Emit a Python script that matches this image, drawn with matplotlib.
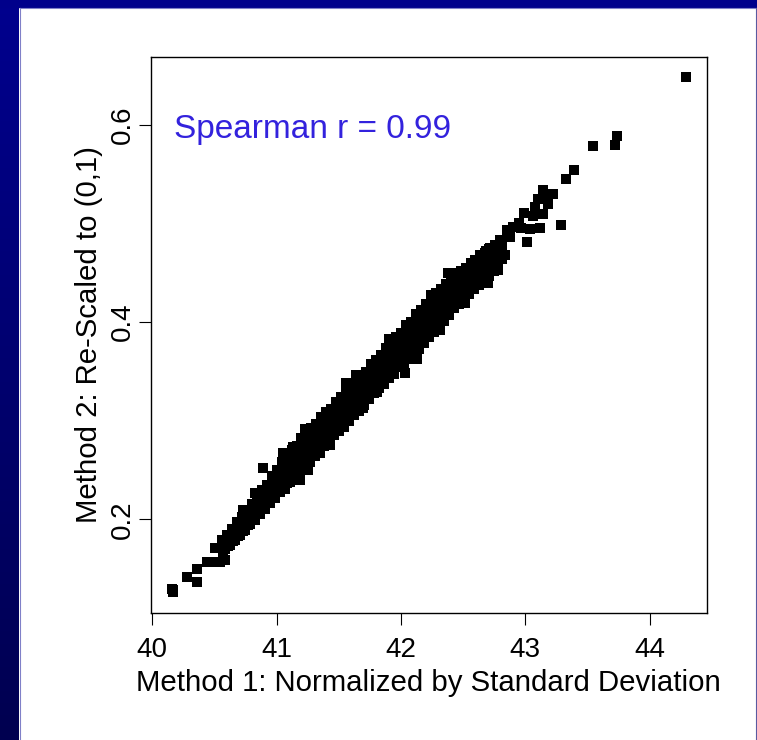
import numpy as np
import matplotlib
matplotlib.use('Agg')
import matplotlib.pyplot as plt
from matplotlib.lines import Line2D

plt.rcParams['font.family'] = ['Liberation Sans', 'DejaVu Sans']

# Method 1 (normalized by SD) vs Method 2 (re-scaled to 0-1)
# dense band, one row per narrow x strip
method1_sd = [
    40.585, 40.610, 40.595, 40.615, 40.600,
    40.625, 40.650, 40.635, 40.655, 40.640,
    40.665, 40.690, 40.675, 40.695, 40.680,
    40.705, 40.730, 40.715, 40.735, 40.720,
    40.745, 40.770, 40.755, 40.775, 40.760,
    40.785, 40.810, 40.795, 40.815, 40.800,
    40.825, 40.850, 40.835, 40.855, 40.840,
    40.865, 40.890, 40.875, 40.895, 40.880,
    40.905, 40.930, 40.915, 40.935, 40.920,
    40.945, 40.970, 40.955, 40.975, 40.960,
    40.985, 41.010, 40.995, 41.015, 41.000,
    41.025, 41.050, 41.035, 41.055, 41.040,
    41.065, 41.090, 41.075, 41.095, 41.080,
    41.105, 41.130, 41.115, 41.135, 41.120,
    41.145, 41.170, 41.155, 41.175, 41.160,
    41.185, 41.210, 41.195, 41.215, 41.200,
    41.225, 41.250, 41.235, 41.255, 41.240,
    41.265, 41.290, 41.275, 41.295, 41.280,
    41.305, 41.330, 41.315, 41.335, 41.320,
    41.345, 41.370, 41.355, 41.375, 41.360,
    41.385, 41.410, 41.395, 41.415, 41.400,
    41.425, 41.450, 41.435, 41.455, 41.440,
    41.465, 41.490, 41.475, 41.495, 41.480,
    41.505, 41.530, 41.515, 41.535, 41.520,
    41.545, 41.570, 41.555, 41.575, 41.560,
    41.585, 41.610, 41.595, 41.615, 41.600,
    41.625, 41.650, 41.635, 41.655, 41.640,
    41.665, 41.690, 41.675, 41.695, 41.680,
    41.705, 41.730, 41.715, 41.735, 41.720,
    41.745, 41.770, 41.755, 41.775, 41.760,
    41.785, 41.810, 41.795, 41.815, 41.800,
    41.825, 41.850, 41.835, 41.855, 41.840,
    41.865, 41.890, 41.875, 41.895, 41.880,
    41.905, 41.930, 41.915, 41.935, 41.920,
    41.945, 41.970, 41.955, 41.975, 41.960,
    41.985, 42.010, 41.995, 42.015, 42.000,
    42.025, 42.050, 42.035, 42.055, 42.040,
    42.065, 42.090, 42.075, 42.095, 42.080,
    42.105, 42.130, 42.115, 42.135, 42.120,
    42.145, 42.170, 42.155, 42.175, 42.160,
    42.185, 42.210, 42.195, 42.215, 42.200,
    42.225, 42.250, 42.235, 42.255, 42.240,
    42.265, 42.290, 42.275, 42.295, 42.280,
    42.305, 42.330, 42.315, 42.335, 42.320,
    42.345, 42.370, 42.355, 42.375, 42.360,
    42.385, 42.410, 42.395, 42.415, 42.400,
    42.425, 42.450, 42.435, 42.455, 42.440,
    42.465, 42.490, 42.475, 42.495, 42.480,
    42.505, 42.530, 42.515, 42.535, 42.520,
    42.545, 42.570, 42.555, 42.575, 42.560,
    42.585, 42.610, 42.595, 42.615, 42.600,
    42.625, 42.650, 42.635, 42.655, 42.640,
    42.665, 42.690, 42.675, 42.695, 42.680,
    42.705, 42.730, 42.715, 42.735, 42.720,
    42.745, 42.770, 42.755, 42.775, 42.760,
    42.785, 42.810, 42.795, 42.815, 42.800,
]
method2_rescaled = [
    0.170, 0.173, 0.177, 0.181, 0.184,
    0.174, 0.178, 0.182, 0.187, 0.190,
    0.179, 0.183, 0.188, 0.192, 0.197,
    0.184, 0.188, 0.193, 0.198, 0.202,
    0.189, 0.194, 0.200, 0.205, 0.209,
    0.195, 0.200, 0.206, 0.211, 0.216,
    0.199, 0.205, 0.212, 0.218, 0.222,
    0.205, 0.211, 0.218, 0.224, 0.230,
    0.210, 0.217, 0.224, 0.230, 0.235,
    0.217, 0.223, 0.231, 0.237, 0.244,
    0.222, 0.229, 0.237, 0.244, 0.250,
    0.228, 0.235, 0.243, 0.250, 0.258,
    0.231, 0.239, 0.248, 0.255, 0.262,
    0.238, 0.245, 0.254, 0.261, 0.270,
    0.243, 0.250, 0.259, 0.267, 0.274,
    0.248, 0.256, 0.265, 0.273, 0.282,
    0.253, 0.262, 0.271, 0.279, 0.287,
    0.258, 0.266, 0.276, 0.285, 0.293,
    0.264, 0.272, 0.282, 0.291, 0.297,
    0.270, 0.277, 0.287, 0.296, 0.304,
    0.274, 0.282, 0.292, 0.301, 0.309,
    0.279, 0.287, 0.297, 0.306, 0.312,
    0.285, 0.292, 0.302, 0.311, 0.319,
    0.290, 0.298, 0.308, 0.317, 0.324,
    0.294, 0.303, 0.313, 0.322, 0.330,
    0.300, 0.308, 0.318, 0.327, 0.334,
    0.306, 0.313, 0.323, 0.332, 0.339,
    0.310, 0.318, 0.328, 0.337, 0.345,
    0.316, 0.324, 0.334, 0.343, 0.349,
    0.322, 0.330, 0.340, 0.349, 0.357,
    0.328, 0.336, 0.346, 0.355, 0.362,
    0.333, 0.341, 0.351, 0.360, 0.367,
    0.337, 0.346, 0.356, 0.365, 0.374,
    0.343, 0.352, 0.362, 0.371, 0.378,
    0.347, 0.357, 0.367, 0.376, 0.385,
    0.354, 0.363, 0.373, 0.382, 0.389,
    0.358, 0.368, 0.378, 0.388, 0.397,
    0.363, 0.373, 0.383, 0.393, 0.400,
    0.369, 0.379, 0.389, 0.399, 0.408,
    0.373, 0.384, 0.394, 0.404, 0.412,
    0.379, 0.389, 0.399, 0.409, 0.418,
    0.385, 0.395, 0.405, 0.415, 0.422,
    0.390, 0.400, 0.410, 0.420, 0.429,
    0.396, 0.406, 0.416, 0.426, 0.433,
    0.401, 0.411, 0.421, 0.430, 0.439,
    0.407, 0.416, 0.426, 0.435, 0.443,
    0.414, 0.422, 0.431, 0.440, 0.447,
    0.418, 0.427, 0.436, 0.444, 0.452,
    0.423, 0.431, 0.440, 0.448, 0.455,
    0.428, 0.435, 0.444, 0.451, 0.460,
    0.433, 0.441, 0.449, 0.456, 0.463,
    0.438, 0.445, 0.453, 0.460, 0.468,
    0.443, 0.449, 0.457, 0.464, 0.470,
    0.447, 0.453, 0.461, 0.468, 0.475,
    0.452, 0.459, 0.466, 0.472, 0.478,
    0.458, 0.464, 0.471, 0.477, 0.483,
]

# sparse points at both ends and the odd ones sticking out of the band
extra_sd = [
    40.156, 40.164, 40.170, 40.277, 40.357, 40.362, 40.438, 40.451, 40.518,
    40.545, 40.571, 40.585, 40.505, 40.559, 40.625, 40.660, 40.679, 40.732,
    40.827, 40.893, 40.974, 41.054, 41.135, 41.256, 41.189, 41.082, 41.430,
    41.350, 41.698, 41.806, 42.034, 42.128, 42.315, 42.517,
    42.380, 42.463, 42.637, 42.785, 42.704, 42.557, 42.530, 42.686, 42.712,
    42.798, 42.839, 43.013, 42.852, 42.905, 43.040, 43.115, 43.289, 42.992,
    43.080, 43.147, 43.142, 43.223, 43.147, 43.327, 43.394, 43.549, 43.724,
    43.742, 44.295, 42.950, 43.060, 42.880, 42.970, 43.180, 43.100,
    41.560, 41.905, 42.245, 41.230, 41.640, 42.060,
]
extra_rescaled = [
    0.1290, 0.1265, 0.1280, 0.1418, 0.1367, 0.1496, 0.1570, 0.1570, 0.1570,
    0.1570, 0.1620, 0.1587, 0.1706, 0.1790, 0.1757, 0.1823, 0.1959, 0.2094,
    0.2264, 0.2517, 0.2365, 0.2670, 0.2737, 0.2500, 0.2400, 0.2365, 0.2754,
    0.2670, 0.3130, 0.3290, 0.3480, 0.3630, 0.3920, 0.4190,
    0.4496, 0.4496, 0.4613, 0.4529, 0.4394, 0.4496, 0.4394, 0.4725, 0.4742,
    0.4766, 0.4681, 0.4816, 0.4935, 0.4968, 0.4942, 0.4952, 0.4986, 0.5104,
    0.5171, 0.5097, 0.5246, 0.5300, 0.5334, 0.5455, 0.5544, 0.5780, 0.5790,
    0.5882, 0.6484, 0.5000, 0.5080, 0.4860, 0.4950, 0.5200, 0.5250,
    0.3380, 0.3830, 0.4270, 0.2920, 0.3460, 0.3950,
]

x_ticks = [40, 41, 42, 43, 44]
y_ticks = [0.2, 0.4, 0.6]
spearman_label = 'Spearman r = 0.99'

W, H = 757, 740


def draw_frame(fig):
    # dark blue slide frame: gradient band on the left, flat band on top
    band = fig.add_axes([0, 0, 19 / W, 1])
    grad = np.linspace(0, 1, 256).reshape(-1, 1)
    cmap = matplotlib.colors.LinearSegmentedColormap.from_list(
        'slide', ['#000050', '#00008e'])
    band.imshow(grad, cmap=cmap, aspect='auto', origin='lower',
                extent=[0, 1, 0, 1])
    band.axis('off')
    fig.patches.append(plt.Rectangle((0, 1 - 7 / H), 1, 7 / H,
                                     transform=fig.transFigure,
                                     color='#00008b', zorder=0))
    edge = '#8080c8'
    fig.lines.append(Line2D([19.5 / W, 19.5 / W], [0, 1 - 7.5 / H],
                            transform=fig.transFigure, color=edge, lw=0.8))
    fig.lines.append(Line2D([19.5 / W, 1], [1 - 7.5 / H, 1 - 7.5 / H],
                            transform=fig.transFigure, color=edge, lw=0.8))
    fig.lines.append(Line2D([756 / W, 756 / W], [0, 1 - 7.5 / H],
                            transform=fig.transFigure, color='#5a5aa0', lw=0.8))


def plot_data():
    fig = plt.figure(figsize=(W / 100, H / 100), dpi=100)
    draw_frame(fig)

    ax = fig.add_axes([150.7 / W, 1 - 613 / H, 556 / W, 556.3 / H])
    ax.scatter(method1_sd, method2_rescaled, marker='s', s=46, c='black',
               linewidths=0)
    ax.scatter(extra_sd, extra_rescaled, marker='s', s=46, c='black',
               linewidths=0)

    ax.set_xlim(39.987, 44.46)
    ax.set_ylim(0.105, 0.669)
    ax.set_xticks(x_ticks)
    ax.set_xticklabels([str(t) for t in x_ticks])
    ax.set_yticks(y_ticks)
    ax.set_yticklabels([str(t) for t in y_ticks], rotation=90, va='center')
    ax.tick_params(axis='both', direction='out', length=8.4, width=0.8,
                   labelsize=20)
    ax.tick_params(axis='x', pad=8.6)
    ax.tick_params(axis='y', pad=2.3)
    for sp in ax.spines.values():
        sp.set_linewidth(1.0)

    ax.set_xlabel('Method 1: Normalized by Standard Deviation', fontsize=21.2,
                  labelpad=4.5)
    ax.set_ylabel('Method 2: Re-Scaled to (0,1)', fontsize=21.2, labelpad=5.2)

    ax.text(40.175, 0.5868, spearman_label, color='#3322dd', fontsize=24,
            ha='left', va='baseline')
    return fig


def main():
    fig = plot_data()
    fig.savefig('out.png', dpi=100)


if __name__ == '__main__':
    main()
